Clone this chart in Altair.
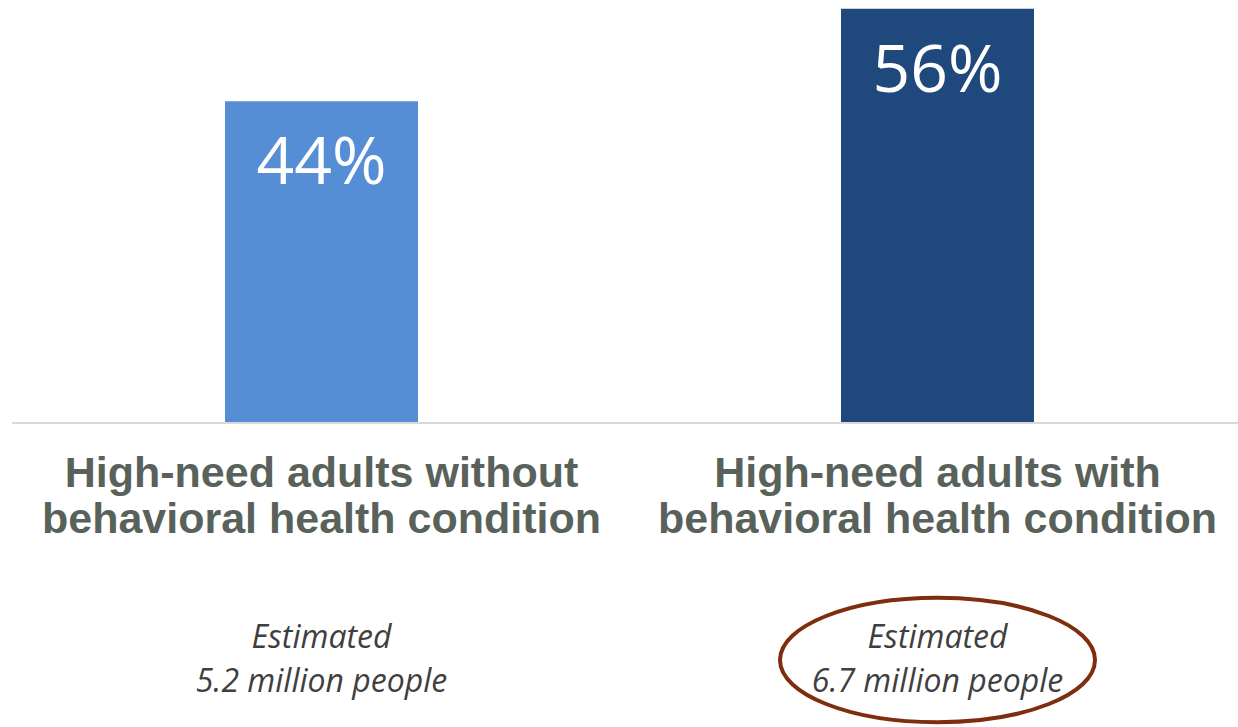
import altair as alt
import pandas as pd

categories = ["without", "with"]
shares = [43.7, 56.3]
share_labels = ["44%", "56%"]
bar_colors = ["#558ED5", "#1F497D"]
category_labels = [
    "High-need adults without\nbehavioral health condition",
    "High-need adults with\nbehavioral health condition",
]
estimate_labels = [
    "Estimated\n5.2 million people",
    "Estimated\n6.7 million people",
]
highlight = [False, True]

df = pd.DataFrame({
    "cat": categories,
    "share": shares,
    "label": share_labels,
    "catlabel": category_labels,
    "estimate": estimate_labels,
    "highlight": highlight,
})

x = alt.X("cat:N", sort=categories, axis=None,
          scale=alt.Scale(domain=categories, range=[213, 1022], paddingInner=0.6867, paddingOuter=0))
y = alt.Y("share:Q", axis=None, scale=alt.Scale(domain=[0, 57.5], nice=False, zero=True))

base = alt.Chart(df)

baseline = alt.Chart(pd.DataFrame({"a": [0]})).mark_rule(color="#D9D9D9", strokeWidth=2).encode(
    x=alt.value(0), x2=alt.value(1226), y=alt.value(423)
)

bars = base.mark_bar().encode(
    x=x, y=y,
    color=alt.Color("cat:N", scale=alt.Scale(domain=categories, range=bar_colors), legend=None),
)

values = base.mark_text(baseline="alphabetic", dy=83, font="Open Sans", fontSize=66,
                        color="white").encode(x=x, y=y, text="label:N")

cat_text = base.mark_text(baseline="alphabetic", lineBreak="\n", font="Liberation Sans",
                          fontWeight="bold", fontSize=43, lineHeight=46,
                          color="#58625A").encode(x=x, y=alt.value(487), text="catlabel:N")

est_text = base.mark_text(baseline="alphabetic", lineBreak="\n", font="Open Sans",
                          fontStyle="italic", fontSize=32, lineHeight=44,
                          color="#3F3F3F").encode(x=x, y=alt.value(648), text="estimate:N")

ellipse_path = "M -1 0 A 1 0.395 0 1 1 1 0 A 1 0.395 0 1 1 -1 0 Z"
ellipse = base.transform_filter("datum.highlight").mark_point(
    shape=ellipse_path, size=99225, filled=False, stroke="#7F2D0F", strokeWidth=4, opacity=1
).encode(x=x, y=alt.value(660))

chart = alt.layer(baseline, bars, values, cat_text, est_text, ellipse).properties(
    width=1226, height=422,
    autosize=alt.AutoSizeParams(type="none"),
    padding={"left": 12, "top": 0, "right": 0, "bottom": 305},
    background="white",
).configure_view(stroke=None)

chart.save("out.html", embed_options={"renderer": "svg", "actions": False})
